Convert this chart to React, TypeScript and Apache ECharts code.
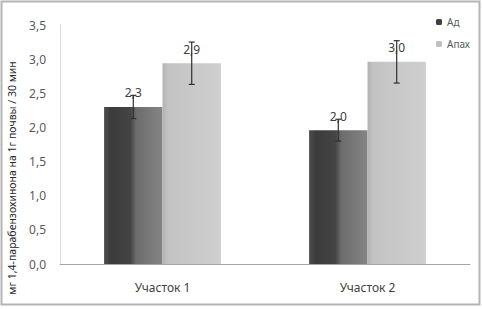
import React, { useEffect, useRef } from "react";
import * as echarts from "echarts";

const categories = ["Участок 1", "Участок 2"];
const seriesNames = ["Ад", "Апах"];
const valuesAd = [2.3, 1.96];
const valuesApax = [2.94, 2.96];
const errAd = [0.17, 0.16];
const errApax = [0.31, 0.31];
const yTicks = { min: 0, max: 3.5, interval: 0.5 };
const yAxisTitle = "мг 1,4-парабензохинона на 1г почвы / 30 мин";

const FONT = "Noto Sans";
const CAT_GAP = 0.43;

function fmt(v: number) {
  return v.toFixed(1).replace(".", ",");
}

export default function App() {
  const ref = useRef<HTMLDivElement>(null);
  useEffect(() => {
    if (!ref.current) return;
    const chart = echarts.init(ref.current, undefined, { renderer: "svg" });
    const darkGrad = new echarts.graphic.LinearGradient(0, 0, 1, 0, [
      { offset: 0, color: "#4e4e4e" },
      { offset: 0.12, color: "#3b3b3b" },
      { offset: 0.45, color: "#444444" },
      { offset: 0.55, color: "#6c6c6c" },
      { offset: 1, color: "#858585" },
    ]);
    const lightGrad = new echarts.graphic.LinearGradient(0, 0, 1, 0, [
      { offset: 0, color: "#b3b3b3" },
      { offset: 0.1, color: "#c3c3c3" },
      { offset: 1, color: "#cfcfcf" },
    ]);
    const makeErr = (vals: number[], errs: number[], side: number) => ({
      type: "custom",
      z: 10,
      silent: true,
      data: vals.map((v, i) => [i, v - errs[i], v + errs[i]]),
      renderItem: (params: any, api: any) => {
        const idx = api.value(0);
        const lo = api.coord([idx, api.value(1)]);
        const hi = api.coord([idx, api.value(2)]);
        const band = api.size([1, 0])[0];
        const barW = (band * (1 - CAT_GAP)) / 2;
        const x = lo[0] + side * barW / 2;
        const cap = 3;
        const style = { stroke: "#303030", lineWidth: 1.2 };
        return {
          type: "group",
          children: [
            { type: "line", shape: { x1: x, y1: lo[1], x2: x, y2: hi[1] }, style },
            { type: "line", shape: { x1: x - cap, y1: lo[1], x2: x + cap, y2: lo[1] }, style },
            { type: "line", shape: { x1: x - cap, y1: hi[1], x2: x + cap, y2: hi[1] }, style },
          ],
        };
      },
    });
    chart.setOption({
      animation: false,
      backgroundColor: "#ffffff",
      textStyle: { fontFamily: FONT },
      grid: { left: 60, right: 12, top: 25, bottom: 45, containLabel: false },
      legend: {
        orient: "vertical",
        left: 431,
        top: 12,
        itemWidth: 6,
        itemHeight: 6,
        itemGap: 12,
        textStyle: { fontSize: 10, color: "#595959", fontFamily: FONT },
        data: [
          { name: seriesNames[0], itemStyle: { color: "#404040" } },
          { name: seriesNames[1], itemStyle: { color: "#c0c0c0" } },
        ],
      },
      xAxis: {
        type: "category",
        data: categories,
        axisLine: { lineStyle: { color: "#a6a6a6", width: 1 } },
        axisTick: { show: false },
        axisLabel: { fontSize: 12, color: "#404040", margin: 17, fontFamily: FONT },
      },
      yAxis: {
        type: "value",
        min: yTicks.min,
        max: yTicks.max,
        interval: yTicks.interval,
        axisLine: { show: true, lineStyle: { color: "#d9d9d9" } },
        axisTick: { show: false },
        splitLine: { show: false },
        axisLabel: {
          fontSize: 12,
          color: "#595959",
          margin: 14,
          fontFamily: FONT,
          formatter: (v: number) => fmt(v),
        },
      },
      graphic: [
        {
          type: "text",
          x: 12,
          y: 178,
          rotation: Math.PI / 2,
          style: {
            text: yAxisTitle,
            fontSize: 10.5,
            fill: "#262626",
            fontFamily: FONT,
            textAlign: "center",
            textVerticalAlign: "middle",
          },
        },
        {
          type: "rect",
          shape: { x: 1.5, y: 1.5, width: 478, height: 303 },
          style: { fill: "none", stroke: "#b4b4b4", lineWidth: 2 },
          z: 100,
        },
      ],
      series: [
        {
          name: seriesNames[0],
          type: "bar",
          data: valuesAd,
          barGap: "0%",
          barCategoryGap: CAT_GAP * 100 + "%",
          itemStyle: { color: darkGrad },
          label: {
            show: true,
            position: "top",
            distance: 8,
            fontSize: 12,
            color: "#404040",
            fontFamily: FONT,
            formatter: (p: any) => fmt(p.value),
          },
        },
        {
          name: seriesNames[1],
          type: "bar",
          data: valuesApax,
          barGap: "0%",
          barCategoryGap: CAT_GAP * 100 + "%",
          itemStyle: { color: lightGrad },
          label: {
            show: true,
            position: "top",
            distance: 8,
            fontSize: 12,
            color: "#404040",
            fontFamily: FONT,
            formatter: (p: any) => fmt(p.value),
          },
        },
        makeErr(valuesAd, errAd, -1),
        makeErr(valuesApax, errApax, 1),
      ],
    });
    return () => chart.dispose();
  }, []);
  return (
    <div
      ref={ref}
      style={{ position: "fixed", left: 0, top: 0, width: 482, height: 309 }}
    />
  );
}
